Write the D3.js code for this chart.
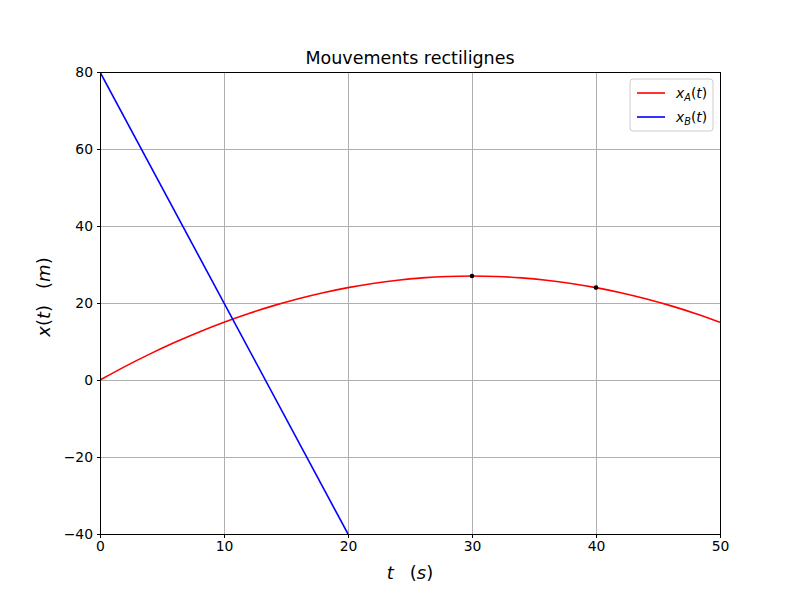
<!DOCTYPE html>
<html>
<head>
<meta charset="utf-8">
<script src="https://cdn.jsdelivr.net/npm/d3@7"></script>
<style>
	body { margin: 0; background: #fff; }
	svg { font-family: "DejaVu Sans", sans-serif; }
	.axis text { font-size: 13.9px; fill: #000; }
	.axis path, .axis line { stroke: #000; stroke-width: 1; shape-rendering: crispEdges; }
	.grid line { stroke: #b0b0b0; stroke-width: 1; shape-rendering: crispEdges; }
	.up { font-style: normal; }
</style>
</head>
<body>
<div id="chart"></div>
<script>
	// values
	const tA = [0, 2, 4, 6, 8, 10, 12, 14, 16, 18, 20, 22, 24, 26, 28, 30, 32, 34, 36, 38, 40, 42, 44, 46, 48, 50];
	const xA = [0, 3.48, 6.72, 9.72, 12.48, 15, 17.28, 19.32, 21.12, 22.68, 24, 25.08, 25.92, 26.52, 26.88, 27,
		26.88, 26.52, 25.92, 25.08, 24, 22.68, 21.12, 19.32, 17.28, 15];
	const tB = [0, 20];
	const xB = [80, -40];
	const markT = [30, 40];
	const markX = [27, 24];
	const xTicks = [0, 10, 20, 30, 40, 50];
	const yTicks = [-40, -20, 0, 20, 40, 60, 80];

	const margin = { top: 72, right: 80, bottom: 66, left: 100 };
	const width = 620;
	const height = 462;

	const svg = d3.select('#chart').append('svg')
		.attr('width', 800)
		.attr('height', 600);
	const chart = svg.append('g')
		.attr('transform', `translate(${margin.left}, ${margin.top})`);

	const x = d3.scaleLinear().domain([0, 50]).range([0, width]);
	const y = d3.scaleLinear().domain([-40, 80]).range([height, 0]);

	// grid
	chart.append('g').attr('class', 'grid')
		.selectAll('line.v').data(xTicks).enter().append('line')
			.attr('x1', d => x(d)).attr('x2', d => x(d))
			.attr('y1', 0).attr('y2', height);
	chart.append('g').attr('class', 'grid')
		.selectAll('line.h').data(yTicks).enter().append('line')
			.attr('x1', 0).attr('x2', width)
			.attr('y1', d => y(d)).attr('y2', d => y(d));

	chart.append('clipPath').attr('id', 'clip')
		.append('rect').attr('width', width).attr('height', height);

	const line = d3.line()
		.x(d => x(d[0]))
		.y(d => y(d[1]))
		.curve(d3.curveNatural);

	const plot = chart.append('g').attr('clip-path', 'url(#clip)');
	plot.append('path')
		.datum(tA.map((t, i) => [t, xA[i]]))
		.attr('d', line)
		.attr('fill', 'none')
		.attr('stroke', '#ff0000')
		.attr('stroke-width', 1.6);
	plot.append('path')
		.datum(tB.map((t, i) => [t, xB[i]]))
		.attr('d', line.curve(d3.curveLinear))
		.attr('fill', 'none')
		.attr('stroke', '#0000ff')
		.attr('stroke-width', 1.6);
	plot.selectAll('circle')
		.data(markT.map((t, i) => [t, markX[i]]))
		.enter().append('circle')
			.attr('cx', d => x(d[0]))
			.attr('cy', d => y(d[1]))
			.attr('r', 2.3)
			.attr('fill', '#000');

	// axes
	const xAxis = d3.axisBottom(x).tickValues(xTicks).tickSize(3.5).tickPadding(3.5).tickSizeOuter(0);
	const yAxis = d3.axisLeft(y).tickValues(yTicks).tickSize(3.5).tickPadding(3.5).tickSizeOuter(0)
		.tickFormat(d => (d < 0 ? '\u2212' + Math.abs(d) : d));
	chart.append('g').attr('class', 'x axis')
		.attr('transform', `translate(0, ${height})`)
		.call(xAxis)
		.call(g => g.select('.domain').remove());
	chart.append('g').attr('class', 'y axis')
		.call(yAxis)
		.call(g => g.select('.domain').remove());
	chart.selectAll('.axis text').attr('font-family', '"DejaVu Sans", sans-serif');

	// frame
	chart.append('rect')
		.attr('width', width).attr('height', height)
		.attr('fill', 'none').attr('stroke', '#000').attr('stroke-width', 1)
		.attr('shape-rendering', 'crispEdges');

	// title and labels
	chart.append('text')
		.attr('x', width / 2).attr('y', -8)
		.attr('text-anchor', 'middle')
		.attr('font-size', '17.5px')
		.text('Mouvements rectilignes');

	const xLabel = chart.append('text')
		.attr('x', width / 2).attr('y', height + 45)
		.attr('text-anchor', 'middle')
		.attr('font-size', '18px')
		.attr('font-style', 'italic');
	xLabel.append('tspan').text('t');
	xLabel.append('tspan').attr('dx', 16).attr('class', 'up').text('(');
	xLabel.append('tspan').text('s');
	xLabel.append('tspan').attr('class', 'up').text(')');

	const yLabel = chart.append('text')
		.attr('transform', `translate(-50, ${height / 2 - 6}) rotate(-90)`)
		.attr('text-anchor', 'middle')
		.attr('font-size', '18px')
		.attr('font-style', 'italic');
	yLabel.append('tspan').text('x');
	yLabel.append('tspan').attr('class', 'up').text('(');
	yLabel.append('tspan').text('t');
	yLabel.append('tspan').attr('class', 'up').text(')');
	yLabel.append('tspan').attr('dx', 16).attr('class', 'up').text('(');
	yLabel.append('tspan').text('m');
	yLabel.append('tspan').attr('class', 'up').text(')');

	// legend
	const legendItems = [
		{ base: 'x', sub: 'A', color: '#ff0000' },
		{ base: 'x', sub: 'B', color: '#0000ff' },
	];
	const legend = chart.append('g')
		.attr('transform', `translate(${width - 90}, 7)`);
	legend.append('rect')
		.attr('width', 83).attr('height', 52)
		.attr('rx', 3)
		.attr('fill', '#fff').attr('fill-opacity', 0.8)
		.attr('stroke', '#cccccc');
	const items = legend.selectAll('.item')
		.data(legendItems)
		.enter().append('g')
			.attr('transform', (d, i) => `translate(0, ${14 + i * 24})`);
	items.append('line')
		.attr('x1', 7).attr('x2', 35)
		.attr('stroke', d => d.color)
		.attr('stroke-width', 1.6);
	const lt = items.append('text')
		.attr('x', 46).attr('dy', '0.35em')
		.attr('font-size', '13.9px')
		.attr('font-style', 'italic');
	lt.append('tspan').text(d => d.base);
	lt.append('tspan').attr('font-size', '9.7px').attr('dy', 3).text(d => d.sub);
	lt.append('tspan').attr('dy', -3).attr('class', 'up').text('(');
	lt.append('tspan').text('t');
	lt.append('tspan').attr('class', 'up').text(')');
</script>
</body>
</html>
